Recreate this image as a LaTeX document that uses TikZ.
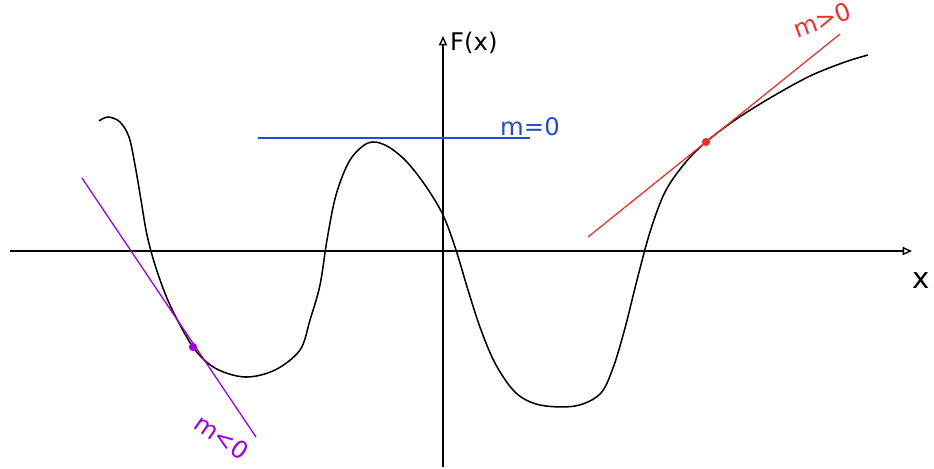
\documentclass[tikz,border=0pt]{standalone}
\usepackage{fontspec}
\setmainfont{DejaVu Sans}
\usetikzlibrary{arrows.meta}
\definecolor{cblue}{RGB}{30,80,200}
\definecolor{cpurple}{RGB}{160,0,210}
\definecolor{cred}{RGB}{235,50,40}
\tikzset{
  axis/.style={line width=1.2pt,-{Triangle[open,length=8pt,width=7pt]}},
  curve/.style={line width=1.3pt,black},
  tangent/.style={line width=1.1pt},
  lbl/.style={font=\huge, inner sep=0pt},
}
\begin{document}
\begin{tikzpicture}[x=0.03cm,y=-0.03cm]
\useasboundingbox (0,0) rectangle (934,468);
% axes
\coordinate (xs) at (10,251);
\coordinate (xe) at (912,251);
\coordinate (ys) at (443,467);
\coordinate (ye) at (443,36);
\draw[axis] (xs) -- (xe);
\draw[axis] (ys) -- (ye);
\node[lbl, anchor=west] (fx) at (450,43) {F(x)};
\node[lbl, font=\Huge, anchor=center] (xl) at (921,281) {x};
% curve
\draw[curve] plot[smooth, tension=0.55] coordinates {
(99,121) (108,117) (120,122) (129,137) (135,165) (141,200) (147,235) (156,268)
(170,305) (193,347) (215,368) (245,377) (275,370) (300,350) (310,320) (320,285)
(327,240) (336,195) (350,160) (368,143) (385,145) (405,160) (425,185) (443,215)
(456,250) (468,290) (481,330) (496,365) (516,393) (540,405) (575,406) (600,394)
(613,368) (625,328) (637,280) (650,232) (665,192) (685,163) (706,142) (735,120)
(770,98) (810,76) (845,62) (868,55)};
% tangent m=0
\coordinate (b1) at (258,138);
\coordinate (b2) at (530,138);
\draw[tangent, cblue] (b1) -- (b2);
\node[lbl, cblue, anchor=south west] (m0) at (500,136) {m=0};
% tangent m<0
\coordinate (p1) at (82,178);
\coordinate (p2) at (256,437);
\draw[tangent, cpurple] (p1) -- (p2);
\node[circle, fill=cpurple, inner sep=0pt, minimum size=7pt] (pd) at (193,347) {};
\node[lbl, cpurple, rotate=-35] (mneg) at (222,437) {m<0};
% tangent m>0
\coordinate (r1) at (588,237);
\coordinate (r2) at (840,34);
\draw[tangent, cred] (r1) -- (r2);
\node[circle, fill=cred, inner sep=0pt, minimum size=7pt] (rd) at (706,142) {};
\node[lbl, cred, rotate=20] (mpos) at (822,20) {m>0};
\end{tikzpicture}
\end{document}
